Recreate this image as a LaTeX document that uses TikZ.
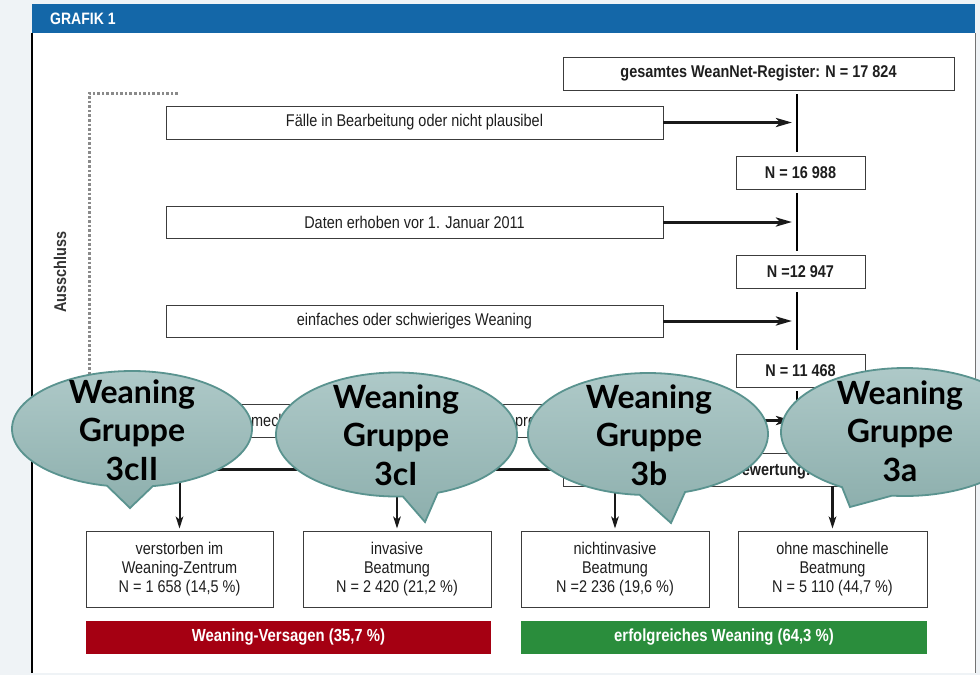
\documentclass[tikz,border=0pt]{standalone}
\usepackage{fontspec}
\setmainfont{Liberation Sans}
\newfontfamily\flowfont[FakeStretch=0.85]{Liberation Sans}
\newfontfamily\bubblefont{Lato}
\usetikzlibrary{arrows.meta}

\definecolor{pagebg}{HTML}{EFF3F6}
\definecolor{headblue}{HTML}{1467A8}
\definecolor{failred}{HTML}{A50012}
\definecolor{okgreen}{HTML}{2A8D3C}
\definecolor{bubtop}{HTML}{AEC9C8}
\definecolor{bubbot}{HTML}{8DAFAD}
\definecolor{bubedge}{HTML}{5A938F}
\definecolor{boxline}{HTML}{3C3C3C}
\definecolor{txt}{HTML}{1E1E1E}
\definecolor{dotgray}{HTML}{8A8A8A}

\tikzset{
  flowbox/.style={draw=boxline, line width=0.9pt, fill=white, rectangle, inner sep=0pt,
    font=\flowfont\fontsize{17}{19}\selectfont, text=txt, align=center},
  boldbox/.style={flowbox, font=\flowfont\bfseries\fontsize{17}{19}\selectfont},
  fragtext/.style={inner sep=0pt, font=\flowfont\fontsize{17}{19}\selectfont, text=txt},
  bar/.style={rectangle, inner sep=0pt, minimum width=406pt, minimum height=33pt,
    text=white, font=\flowfont\bfseries\fontsize{17.5}{19}\selectfont},
  mainline/.style={line width=1.4pt, draw=black, shorten <=4pt, shorten >=4pt},
  exarrow/.style={line width=3pt, draw=black!90, shorten >=5pt,
    -{Stealth[length=16pt,width=9pt,inset=4pt]}},
  distline/.style={line width=3pt, draw=black!90},
  downarrow/.style={line width=2pt, draw=black!90, shorten >=2pt,
    -{Stealth[length=12pt,width=7.5pt,inset=3pt]}},
  dotbracket/.style={draw=dotgray, line width=3pt, dash pattern=on 2.6pt off 2pt},
  bubble/.style={top color=bubtop, bottom color=bubbot, draw=bubedge, line width=1.8pt},
  bubtext/.style={align=center, inner sep=0pt, text=black,
    font=\bubblefont\bfseries\fontsize{32}{38.5}\selectfont}
}

\begin{document}
\begin{tikzpicture}[x=1pt,y=-1pt]
\useasboundingbox (0,0) rectangle (980,675);

% page and frame
\fill[pagebg] (0,0) rectangle (980,675);
\fill[white] (32,4) rectangle (975,673);
\fill[headblue] (32,4) rectangle (975,33);
\draw[black, line width=1.2pt] (32,33) -- (32,673);
\draw[black!55, line width=1pt] (975,33) -- (975,673);
\node[anchor=west, inner sep=0pt, text=white,
  font=\flowfont\bfseries\fontsize{16.5}{18}\selectfont] (title) at (50,19) {GRAFIK 1};

% exclusion bracket
\draw[dotbracket] (178,93) -- (89,93) -- (89,440);
\node[rotate=90, inner sep=0pt, text=black!80,
  font=\flowfont\bfseries\fontsize{17}{19}\selectfont] (aus) at (60,272) {Ausschluss};

% main flow
\coordinate (mx) at (797,0);
\node[boldbox, minimum width=391pt, minimum height=33pt] (reg) at (758.5,73.5)
  {gesamtes WeanNet-Register: N = 17 824};
\node[boldbox, minimum width=129pt, minimum height=33pt] (n1) at (800.5,172.5) {N = 16 988};
\node[boldbox, minimum width=129pt, minimum height=33pt] (n2) at (800.5,271.5) {N =12 947};
\node[boldbox, minimum width=129pt, minimum height=33pt] (n3) at (800.5,370.5) {N = 11 468};
\node[flowbox, minimum width=391pt, minimum height=33pt] (ev) at (758.5,469.5) {};
\node[fragtext, anchor=base east, font=\flowfont\bfseries\fontsize{17}{19}\selectfont]
  (evtxt) at (811,475.5) {Bewertung:};

% exclusions
\node[flowbox, minimum width=497pt, minimum height=33pt] (ex1) at (414.5,122.5)
  {Fälle in Bearbeitung oder nicht plausibel};
\node[flowbox, minimum width=497pt, minimum height=32pt] (ex2) at (414.5,222)
  {Daten erhoben vor 1. Januar 2011};
\node[flowbox, minimum width=497pt, minimum height=32pt] (ex3) at (414.5,321)
  {einfaches oder schwieriges Weaning};
\node[flowbox, minimum width=497pt, minimum height=33pt] (ex4) at (414.5,420.5) {};
\node[fragtext, anchor=base west] (ex4a) at (251,426.5) {mechanisch};
\node[fragtext, anchor=base west] (ex4b) at (515,426.5) {prolongiert};

% results
\node[flowbox, minimum width=187pt, minimum height=76pt] (resA) at (179.5,569)
  {verstorben im\\Weaning-Zentrum\\N = 1 658 (14,5 \%)};
\node[flowbox, minimum width=188pt, minimum height=76pt] (resB) at (397,569)
  {invasive\\Beatmung\\N = 2 420 (21,2 \%)};
\node[flowbox, minimum width=188pt, minimum height=76pt] (resC) at (615,569)
  {nichtinvasive\\Beatmung\\N =2 236 (19,6 \%)};
\node[flowbox, minimum width=189pt, minimum height=76pt] (resD) at (832.5,569)
  {ohne maschinelle\\Beatmung\\N = 5 110 (44,7 \%)};

\node[bar, fill=failred, minimum width=405pt] (fail) at (288.5,637.5) {Weaning-Versagen (35,7 \%)};
\node[bar, fill=okgreen] (succ) at (724,637.5) {erfolgreiches Weaning (64,3 \%)};

% connectors
\draw[mainline] (reg.south -| mx) -- (n1.north -| mx);
\draw[mainline] (n1.south -| mx) -- (n2.north -| mx);
\draw[mainline] (n2.south -| mx) -- (n3.north -| mx);
\draw[mainline] (n3.south -| mx) -- (ev.north -| mx);
\draw[exarrow] (ex1.east) -- (ex1.east -| mx);
\draw[exarrow] (ex2.east) -- (ex2.east -| mx);
\draw[exarrow] (ex3.east) -- (ex3.east -| mx);
\draw[exarrow] (ex4.east) -- (ex4.east -| mx);

\draw[distline] (ev.west) -- ([xshift=-1.5pt]ev.west -| resA.north);
\draw[downarrow] (ev.west -| resA.north) -- (resA.north);
\draw[downarrow] (ev.west -| resB.north) -- (resB.north);
\draw[downarrow] (ev.south -| resC.north) -- (resC.north);
\draw[downarrow, line width=3pt] (ev.south -| resD.north) -- (resD.north);

% speech bubbles
\shadedraw[bubble] (130,508) -- plot[domain=102:440, samples=160]
  ({132+120*cos(\x)},{429+58*sin(\x)}) -- cycle;
\node[bubtext] (g3cII) at (132,430) {Weaning\\Gruppe\\3cII};

\shadedraw[bubble] (425,522) -- plot[domain=87:430, samples=160]
  ({396.5+120.5*cos(\x)},{434.5+62*sin(\x)}) -- cycle;
\node[bubtext] (g3cI) at (396,435) {Weaning\\Gruppe\\3cI};

\shadedraw[bubble] (671,523) -- plot[domain=94:432, samples=160]
  ({648+120*cos(\x)},{434+61*sin(\x)}) -- cycle;
\node[bubtext] (g3b) at (649,435) {Weaning\\Gruppe\\3b};

\shadedraw[bubble] (850,507) -- plot[domain=120.5:456, samples=160]
  ({905+124*cos(\x)},{432+64*sin(\x)}) -- cycle;
\node[bubtext] (g3a) at (900,431) {Weaning\\Gruppe\\3a};
\end{tikzpicture}
\end{document}
